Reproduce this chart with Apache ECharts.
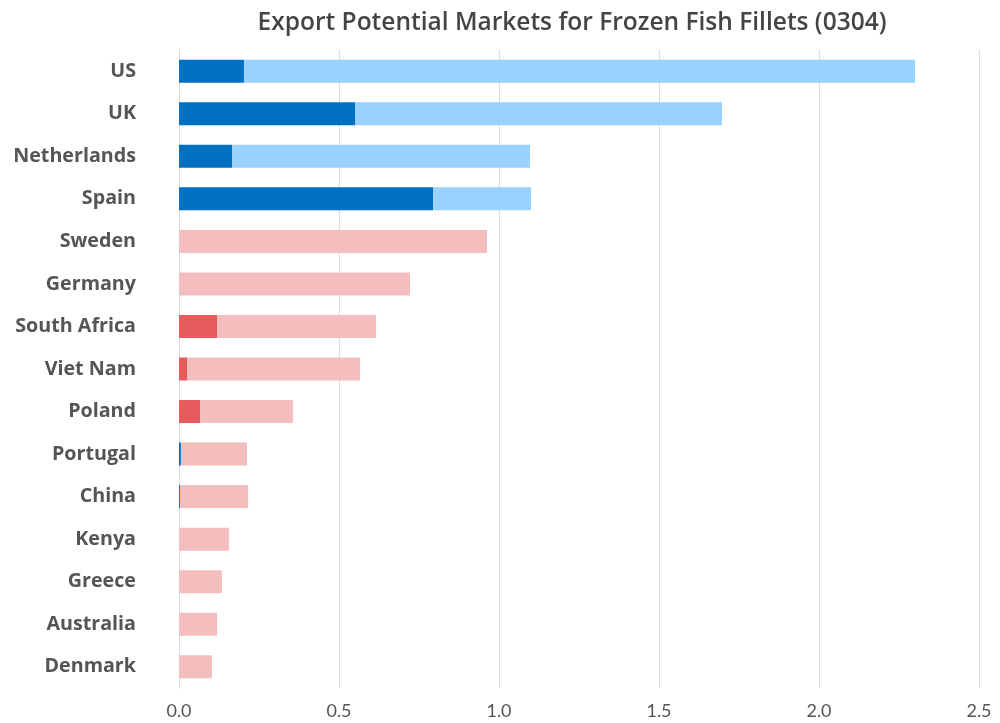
<!DOCTYPE html>
<html><head><meta charset="utf-8">
<script src="https://cdn.jsdelivr.net/npm/echarts@6/dist/echarts.min.js"></script>
<style>html,body{margin:0;padding:0;background:#fff}#c{width:1000px;height:723px}</style>
</head><body><div id="c"></div>
<script>
const categories = ['US','UK','Netherlands','Spain','Sweden','Germany','South Africa','Viet Nam','Poland','Portugal','China','Kenya','Greece','Australia','Denmark'];
const actualExports = [0.203,0.55,0.166,0.794,0,0,0.119,0.025,0.066,0.006,0.003,0,0,0,0];
const untappedPotential = [2.097,1.147,0.931,0.306,0.9625,0.722,0.497,0.541,0.29,0.2065,0.213,0.156,0.134,0.119,0.103];
const actualGroup = ['A','A','A','A','B','B','B','B','B','A','A','B','B','B','B'];
const potentialGroup = ['A','A','A','A','B','B','B','B','B','B','B','B','B','B','B'];
const xTicks = [0,0.5,1,1.5,2,2.5];

const darkCol = {A:'#0070c0', B:'#e85a5c'};
const lightCol = {A:'#99d1ff', B:'#f4bdbe'};
const chart = echarts.init(document.getElementById('c'));
chart.setOption({
  animation:false,
  title:{text:'Export Potential Markets for Frozen Fish Fillets (0304)',left:567,top:6,textAlign:'center',
    textStyle:{fontFamily:'Open Sans',fontWeight:600,fontSize:24.5,color:'#444'}},
  grid:{left:179,right:21,top:50,bottom:35,containLabel:false},
  xAxis:{type:'value',min:xTicks[0],max:xTicks[xTicks.length-1],interval:0.5,
    axisLine:{show:false},axisTick:{show:false},
    splitLine:{lineStyle:{color:'#dcdcdc',width:1}},
    axisLabel:{fontFamily:'Lato',fontSize:18,color:'#555',margin:14,formatter:v=>v.toFixed(1)}},
  yAxis:{type:'category',data:categories,inverse:true,
    axisLine:{show:true,lineStyle:{color:'#dcdcdc'}},axisTick:{show:false},
    axisLabel:{fontFamily:'Open Sans',fontWeight:'bold',fontSize:19.7,color:'#555',margin:43}},
  series:[
    {type:'bar',stack:'t',barWidth:23,data:actualExports.map((v,i)=>({value:v,itemStyle:{color:darkCol[actualGroup[i]]}}))},
    {type:'bar',stack:'t',barWidth:23,data:untappedPotential.map((v,i)=>({value:v,itemStyle:{color:lightCol[potentialGroup[i]]}}))}
  ]
});
</script></body></html>
